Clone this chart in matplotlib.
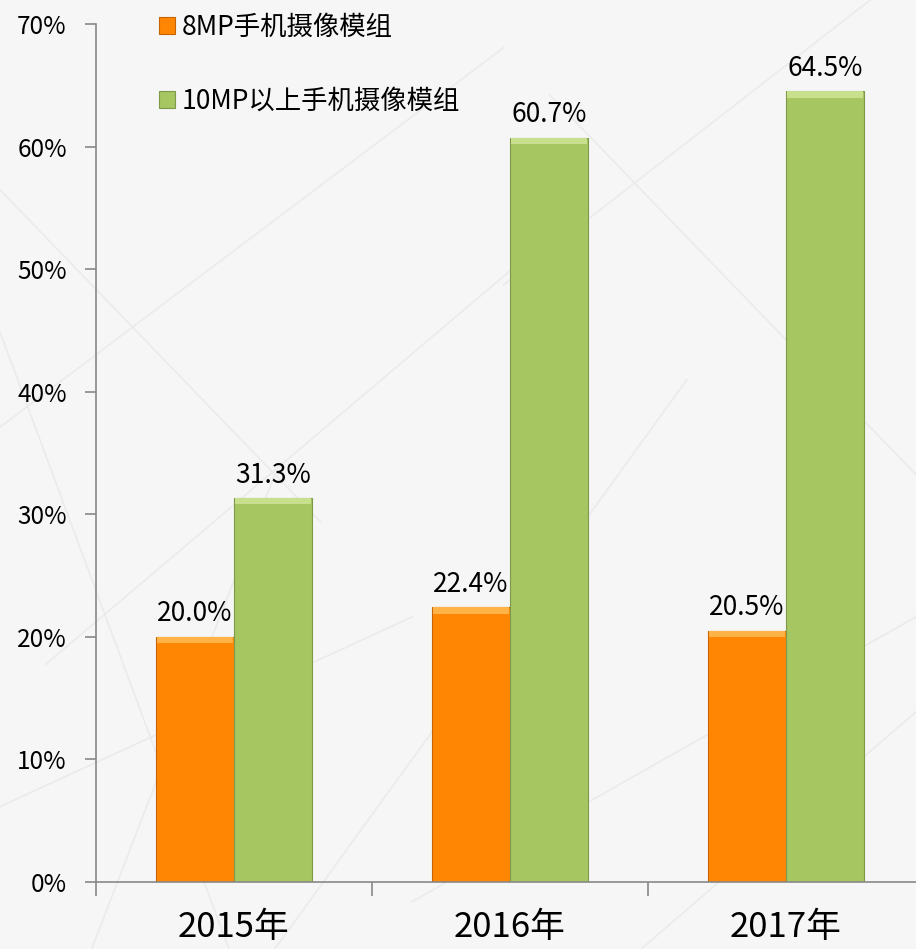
import matplotlib
matplotlib.use("Agg")
import matplotlib.pyplot as plt
import numpy as np

plt.rcParams['font.family'] = ['Noto Sans CJK SC', 'DejaVu Sans']

years = ['2015年', '2016年', '2017年']
share_8mp = [20.0, 22.4, 20.5]
share_10mp = [31.3, 60.7, 64.5]
series_names = ['8MP手机摄像模组', '10MP以上手机摄像模组']
yticks = [0, 10, 20, 30, 40, 50, 60, 70]

orange = '#FF8603'
orange_edge = '#C86400'
orange_top = '#FFB347'
green = '#A6C662'
green_edge = '#7E9A48'
green_top = '#C8E08E'

fig = plt.figure(figsize=(9.16, 9.49), dpi=100, facecolor='#f6f6f6')

# faint geometric background lines
bg = fig.add_axes([0, 0, 1, 1], zorder=-5)
bg.set_xlim(0, 1)
bg.set_ylim(0, 1)
bg.axis('off')
for (x0, y0, x1, y1) in [(0.0, 0.55, 0.55, 0.95), (0.05, 0.3, 0.6, 0.75), (0.0, 0.8, 0.35, 0.45),
                         (0.3, 0.0, 0.75, 0.6), (0.45, 0.05, 1.0, 0.35), (0.6, 0.9, 1.0, 0.5),
                         (0.0, 0.15, 0.45, 0.35), (0.7, 0.0, 1.0, 0.25), (0.1, 0.0, 0.3, 0.5),
                         (0.55, 0.7, 0.95, 1.0), (0.0, 0.65, 0.25, 0.0)]:
    bg.plot([x0, x1], [y0, y1], color='#ebebeb', lw=1.2)

ax = fig.add_axes([96 / 916, 67 / 949, 828 / 916, 858 / 949])
ax.patch.set_alpha(0)

x = np.arange(len(years))
w = 0.283
cap = 0.5
b1 = ax.bar(x - w / 2, share_8mp, w, color=orange, edgecolor=orange_edge, linewidth=0.8)
b2 = ax.bar(x + w / 2, share_10mp, w, color=green, edgecolor=green_edge, linewidth=0.8)
# bevel highlight on top of the bars
ax.bar(x - w / 2, cap, w * 0.97, bottom=np.array(share_8mp) - cap, color=orange_top, linewidth=0)
ax.bar(x + w / 2, cap, w * 0.97, bottom=np.array(share_10mp) - cap, color=green_top, linewidth=0)

for xi, v in zip(x, share_8mp):
    ax.text(xi - w / 2, v + 0.8, f'{v:.1f}%', ha='center', va='bottom', fontsize=19)
for xi, v in zip(x, share_10mp):
    ax.text(xi + w / 2, v + 0.8, f'{v:.1f}%', ha='center', va='bottom', fontsize=19)

ax.set_xlim(-0.5, 2.5)
ax.set_ylim(0, 70)
ax.set_yticks(yticks)
ax.set_yticklabels([f'{t}%' for t in yticks], fontsize=17.5)
ax.set_xticks(x)
ax.set_xticklabels(years, fontsize=25)
ax.tick_params(axis='x', length=0, pad=20)
ax.tick_params(axis='y', length=8, color='#888888', width=1.2, pad=13)
# category separators on the x axis
ax.set_xticks([-0.5, 0.5, 1.5], minor=True)
ax.tick_params(axis='x', which='minor', length=10, color='#888888', width=1.2)

for s in ['top', 'right']:
    ax.spines[s].set_visible(False)
for s in ['left', 'bottom']:
    ax.spines[s].set_color('#888888')
    ax.spines[s].set_linewidth(1.2)

leg = ax.legend([b1, b2], series_names, loc='upper left', bbox_to_anchor=(0.048, 1.04),
                frameon=False, fontsize=19, handlelength=0.6, handleheight=0.6,
                handletextpad=0.25, labelspacing=1.8)

fig.savefig('out.png', dpi=100, facecolor=fig.get_facecolor())
